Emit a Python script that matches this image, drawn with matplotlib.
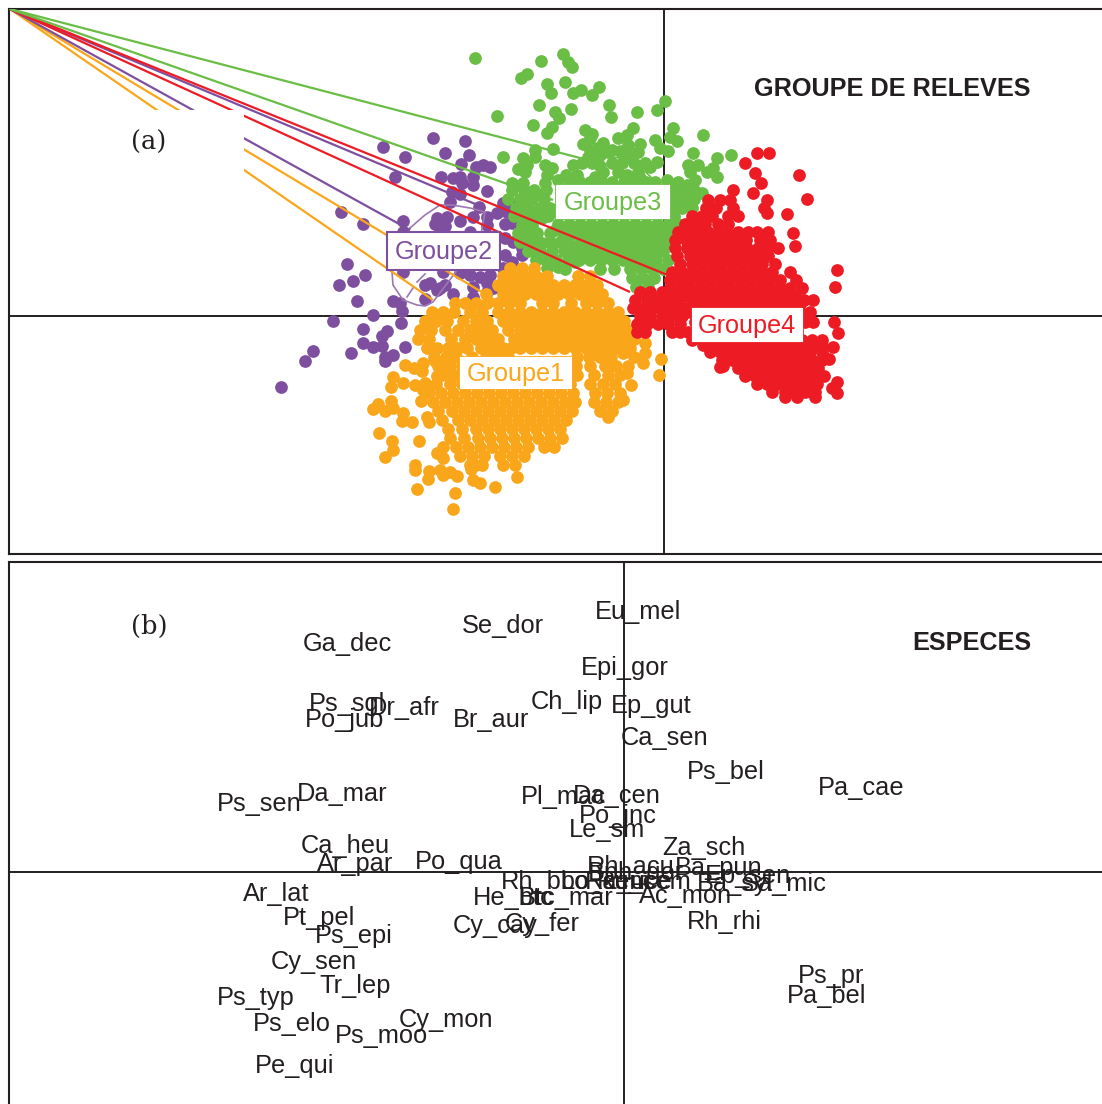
import matplotlib
matplotlib.use('Agg')
import matplotlib.pyplot as plt
from matplotlib.patches import Rectangle

plt.rcParams['font.family'] = ['Liberation Sans', 'DejaVu Sans']

W, H = 1102, 1104
INK = '#231f20'
ORANGE, PURPLE, GREEN, RED = '#faa61a', '#7f4f9f', '#6abd45', '#ed1c24'
DOT = 84

# (a) sites. loose points are (x, y), packed parts are y: [x, ...]
purple_pts = [(383,147),(405,157),(433,138),(465,141),(445,153),(469,155),(461,164),(476,167),(483,165),(490,167),
    (395,177),(441,177),(453,178),(460,177),(462,183),(473,177),(473,185),(487,191),(452,192),(460,194),(450,202),
    (479,207),(503,203),(513,205),(507,212),(497,213),(487,217),(473,217),(460,221),(447,217),(437,218),(435,224),
    (445,226),(403,221),(403,232),(505,224),(512,223),(487,225),(513,242),(522,248),(522,255),(505,255),(341,212),
    (363,224),(347,264),(365,275),(353,281),(339,285),(357,301),(373,315),(333,321),(363,329),(387,331),(382,336),
    (363,343),(373,347),(382,346),(351,353),(313,351),(305,361),(281,387),(405,347),(385,357),(393,355),(385,361),
    (401,323),(402,311),(393,301),(400,303),(425,285),(430,283),(440,288),(445,285),(437,290),(453,294),(425,299),
    (473,287),(473,297),(487,283),(493,288),(487,292),(470,275),(480,277),(490,275),(460,273),(443,272),(403,272),
    (512,262),(503,268),(440,232),(470,232),(505,238)]

orange_pts = [(393,377),(391,387),(403,383),(415,385),(425,383),(423,390),(405,365),(414,368),(423,363),(422,371),
    (435,361),(445,367),(437,376),(453,376),(373,409),(378,404),(385,411),(391,401),(393,408),(403,413),(402,421),
    (412,422),(421,401),(427,417),(429,422),(379,433),(392,441),(393,450),(385,457),(419,441),(415,465),(415,470),
    (429,471),(428,479),(417,489),(437,453),(443,447),(443,458),(440,470),(443,475),(450,472),(457,476),(471,469),
    (475,465),(473,480),(480,483),(495,487),(517,477),(455,493),(453,509),(645,343),(645,353),(643,363),(661,359),
    (659,375),(631,385),(623,353),(627,373),(623,400),(608,417)]
orange_rows = {
    268: [510,522,534],
    276: [503,514,525,536,547,578,590],
    285: [498,509,520,531,542,553,564,575,586,597],
    294: [486,503,514,525,536,547,558,569,580,591,602],
    303: [455,465,476,487,498,509,520,542,553,571,586,597,608],
    312: [432,443,454,470,482,498,509,520,531,542,553,564,575,586,597,608,618],
    321: [425,436,447,463,476,487,503,514,525,536,547,558,569,580,591,602,613,624],
    330: [420,431,445,458,470,481,492,508,520,531,542,553,564,575,586,596,607,618,628],
    339: [418,429,451,465,476,487,498,514,525,536,547,558,569,580,591,602,613,624,634],
    348: [427,437,448,458,467,481,492,503,511,520,531,542,553,564,575,586,597,608,619,630],
    357: [434,446,456,472,486,497,508,577,589,600,611,634],
    366: [438,450,462,474,576,590,605,616,628],
    375: [442,454,466,577,594,608,620],
    384: [436,450,462,474,486,498,510,522,534,546,558,570,590,603,615],
    393: [429,441,453,465,477,489,501,513,525,537,549,561,573,595,607,620],
    402: [433,445,457,469,481,493,505,517,529,541,553,565,575,594,606,618],
    411: [438,452,464,476,488,500,512,524,536,548,560,572,600,612],
    420: [442,458,470,482,494,506,518,530,542,554,566],
    429: [448,462,476,488,500,512,524,536,548,560],
    438: [450,464,478,490,502,514,526,538,550,562],
    447: [456,468,480,492,504,516,528,544,554],
    456: [460,472,484,500,512,524],
    465: [470,482,503,515],
}

green_pts = [(475,58),(541,61),(563,54),(568,62),(572,67),(527,74),(521,78),(547,84),(551,93),(565,82),(573,93),
    (539,105),(571,109),(555,112),(559,118),(497,116),(533,125),(552,127),(547,133),(535,150),(535,157),(553,149),
    (503,157),(523,158),(527,165),(518,169),(525,172),(545,165),(552,168),(547,175),(573,165),(566,175),(512,183),
    (523,183),(545,183),(558,180),(528,194),(537,195),(525,203),(525,208),(538,210),(550,213),(528,218),(542,218),
    (522,225),(532,225),(525,237),(542,243),(550,242),(555,230),(568,242),(575,248),(547,268),(558,267),(575,262),
    (581,90),(592,95),(599,87),(609,105),(611,117),(637,112),(657,110),(665,101),(673,128),(670,137),(677,141),
    (703,135),(693,153),(717,158),(731,155),(655,140),(660,148),(668,151),(633,128),(627,135),(618,138),(628,145),
    (640,144),(638,152),(620,151),(628,155),(585,130),(592,134),(590,138),(583,144),(603,143),(597,148),(608,152),
    (588,157),(600,155),(612,163),(600,166),(603,172),(577,175),(595,177),(618,172),(627,175),(638,172),(650,167),
    (657,162),(640,178),(655,182),(667,180),(688,165),(698,165),(690,172),(707,172),(713,168),(717,177),(695,180),
    (687,185),(702,193),(692,195),(675,187),(688,203),(680,200),(530,250),(540,255),(520,240)]
green_rows = {
    150: [590,602,612],
    163: [582,592,622,634,645],
    182: [570,580,590,602,612,624,634,646,668,678],
    190: [512,524,534,546,672,682,694],
    199: [508,520,532,544,674,684,694],
    208: [516,528,540,550,672,682,692],
    216: [514,524,536,548,674],
    224: [558,569,580,591,602,613,624,635,646,657,668,678],
    233: [518,528,537,550,563,574,585,596,607,618,629,640,651,662,672],
    242: [520,532,560,580,591,602,613,624,635,646,657,668],
    251: [528,540,552,564,575,586,597,608,619,630,641,652,663],
    260: [536,546,556,568,579,590,601,612,623,634,645,656,668],
    269: [565,600,614,630,641,652,663],
    278: [632,643,654],
    287: [636,648],
}

red_pts = [(757,153),(769,153),(745,163),(755,173),(761,183),(799,175),(807,199),(733,190),(753,193),(767,200),
    (764,208),(767,213),(787,214),(793,233),(795,246),(837,270),(835,287),(834,322),(838,333),(833,347),(829,359),
    (837,382),(832,388),(837,393),(723,366),(720,367),(804,300),(813,300)]
red_rows = {
    200: [708,720,730],
    208: [706,716,733],
    216: [692,702,712,728,738],
    224: [685,695,705,718,728],
    232: [678,688,698,708,718,728,738,748,757,768],
    240: [675,686,696,706,716,726,736,746,760,770],
    248: [675,687,697,707,717,727,737,747,758,768,778],
    256: [677,690,700,710,720,730,740,750,760,768],
    264: [680,692,702,712,722,732,742,752,762,775],
    272: [672,682,692,702,712,722,732,742,752,762,772,790],
    280: [670,680,690,700,710,720,730,740,750,760,770,780,796],
    288: [670,680,690,700,710,720,730,740,750,760,770,780,790,802],
    296: [685,695,705,715,725,735,745,755,765,775,785,795],
    304: [692,702,712,722,732,742,752,762,772,782,792,800],
    312: [690,700,710,720,730,740,750,760,770,780,790,800,810],
    322: [695,705,715,725,735,745,755,765,775,785,795,805,813],
    332: [695,705,715,725,735,745,755,765,775,785,795,805,815,822],
    340: [692,702,712,722,732,742,752,762,772,782,792,802,812,822],
    345: [703,713,723,733,743,753,763,773,783,793,803,813,822],
    352: [710,720,730,740,750,760,770,780,790,800,810,822],
    360: [722,732,742,752,762,772,782,792,802,812,822],
    368: [738,748,758,768,778,788,798,808,818],
    376: [745,755,765,775,785,795,805,815,824],
    384: [757,767,777,787,797,807,817],
    392: [772,785,795,805,815],
    397: [785,797,815],
    292: [640,650,662,672],
    300: [635,647,657,668,678],
    308: [633,643,653,663,673,683],
    316: [640,650,662,672,682],
    324: [637,647,658,668,680],
    332: [637,645,672,680,688],
}

# fans from the top left corner to each group
fan_ends = [
    (433, 300, ORANGE), (495, 300, ORANGE),
    (410, 230, PURPLE), (480, 206, PURPLE),
    (630, 292, RED), (670, 276, RED),
    (553, 200, GREEN), (580, 158, GREEN),
]
hull2_x = [410,425,440,452,470,485,480,433,425,417,403,393,392,410]
hull2_y = [228,215,205,205,208,212,240,302,306,305,300,285,272,228]
hull3_x = [580,600,632,652]
hull3_y = [158,155,160,178]

group_names = ['Groupe1', 'Groupe2', 'Groupe3', 'Groupe4']
group_colors = [ORANGE, PURPLE, GREEN, RED]
group_cx = [515.5, 443.5, 612.5, 747]
group_cy = [372.5, 251, 201.5, 324]
group_w = [113, 113, 115, 112]
group_h = [33, 38, 35, 35]

# (b) species
species = ['Eu_mel','Se_dor','Ga_dec','Epi_gor','Ps_sgl','Dr_afr','Po_jub','Br_aur','Ch_lip','Ep_gut','Ca_sen',
    'Ps_bel','Pa_cae','Ps_sen','Da_mar','Pl_mac','Da_cen','Po_inc','Le_sm','Ca_heu','Ar_par','Po_qua','Za_sch',
    'Rh_acu','Ba_pun','Bph_gor','Ep_sen','Sa_mic','Ba_syl','Rh_bbo','Lo_cem','Ra_uce','Ru_cem','He_btc','Btc_mar',
    'Ac_mon','Rh_rhi','Ar_lat','Pt_pel','Ps_epi','Cy_cay','Cy_fer','Cy_sen','Tr_lep','Ps_typ','Ps_elo','Cy_mon',
    'Ps_moo','Pe_qui','Ps_pr','Pa_bel']
sp_x = [595,462,303,581,309,369,305,453,531,611,621,687,818,217,297,521,573,579,569,301,317,415,662,587,675,588,
    705,742,697,501,561,585,597,473,519,639,687,243,283,315,453,505,271,319,217,253,399,335,255,798,787]
sp_y = [619,633,651,675,711,715,727,727,709,713,745,779,795,811,801,804,803,823,837,853,871,869,855,874,875,880,
    883,891,891,889,889,889,889,905,905,903,929,901,925,943,933,931,969,993,1005,1031,1027,1043,1073,983,1003]


def rows_to_xy(pts, rows):
    xs = [p[0] for p in pts]
    ys = [p[1] for p in pts]
    for y, row in rows.items():
        xs += row
        ys += [y] * len(row)
    return xs, ys


def place_axes(top, bottom):
    ax = fig.add_axes([9 / W, 1 - bottom / H, (W - 9) / W, (bottom - top) / H])
    ax.set_xlim(9, W)
    ax.set_ylim(bottom, top)
    ax.set_xticks([])
    ax.set_yticks([])
    for s in ax.spines.values():
        s.set_color(INK)
        s.set_linewidth(1.5)
    ax.spines['right'].set_visible(False)
    return ax


fig = plt.figure(figsize=(W / 100, H / 100), dpi=100)

ax = place_axes(9, 554)
ax.axvline(664, color=INK, lw=1.4, zorder=1)
ax.axhline(316, color=INK, lw=1.4, zorder=1)

x, y = rows_to_xy(purple_pts, {})
ax.scatter(x, y, s=DOT, color=PURPLE, linewidths=0, zorder=2)
x, y = rows_to_xy(green_pts, green_rows)
ax.scatter(x, y, s=DOT, color=GREEN, linewidths=0, zorder=3)
x, y = rows_to_xy(orange_pts, orange_rows)
ax.scatter(x, y, s=DOT, color=ORANGE, linewidths=0, zorder=4)
x, y = rows_to_xy(red_pts, red_rows)
ax.scatter(x, y, s=DOT, color=RED, linewidths=0, zorder=5)

ax.plot(hull2_x, hull2_y, color='#9c77b3', lw=1.2, zorder=6)
ax.plot([407, 413], [297, 288], color='#9c77b3', lw=1.2, zorder=6)
ax.plot([417, 425], [282, 274], color='#9c77b3', lw=1.2, zorder=6)
ax.plot(hull3_x, hull3_y, color=GREEN, lw=1.2, zorder=6)
for ex, ey, c in fan_ends:
    ax.plot([10, ex], [9, ey], color=c, lw=1.6, zorder=6, solid_capstyle='butt')

# white patch behind the (a), it cuts the fan lines
ax.add_patch(Rectangle((110, 110), 134, 70, facecolor='white', edgecolor='none', zorder=7))
ax.text(149, 142, '(a)', family=['DejaVu Serif'], fontsize=18.5, color=INK, ha='center', va='center', zorder=8)
ax.text(1031, 88.5, 'GROUPE DE RELEVES', fontsize=18.2, fontweight='bold', color=INK, ha='right', va='center', zorder=8)

for name, c, cx, cy, w, h in zip(group_names, group_colors, group_cx, group_cy, group_w, group_h):
    ax.add_patch(Rectangle((cx - w / 2, cy - h / 2), w, h, facecolor='white',
                           edgecolor=c, lw=1.5 if name == 'Groupe2' else 0.6, zorder=9))
    ax.text(cx, cy + 1.5, name, fontsize=18.2, color=c, ha='center', va='center', zorder=10)

ax2 = place_axes(562, H + 5)
ax2.spines['bottom'].set_visible(False)
ax2.axvline(624, color=INK, lw=1.4)
ax2.axhline(872, color=INK, lw=1.4)
for name, px, py in zip(species, sp_x, sp_y):
    ax2.text(px, py, name, fontsize=18.3, color=INK, ha='left', va='baseline', clip_on=True)
ax2.text(149, 626, '(b)', family=['DejaVu Serif'], fontsize=18.5, color=INK, ha='center', va='center')
ax2.text(1031, 643.5, 'ESPECES', fontsize=18.2, fontweight='bold', color=INK, ha='right', va='center')

fig.savefig('out.png', dpi=100)
